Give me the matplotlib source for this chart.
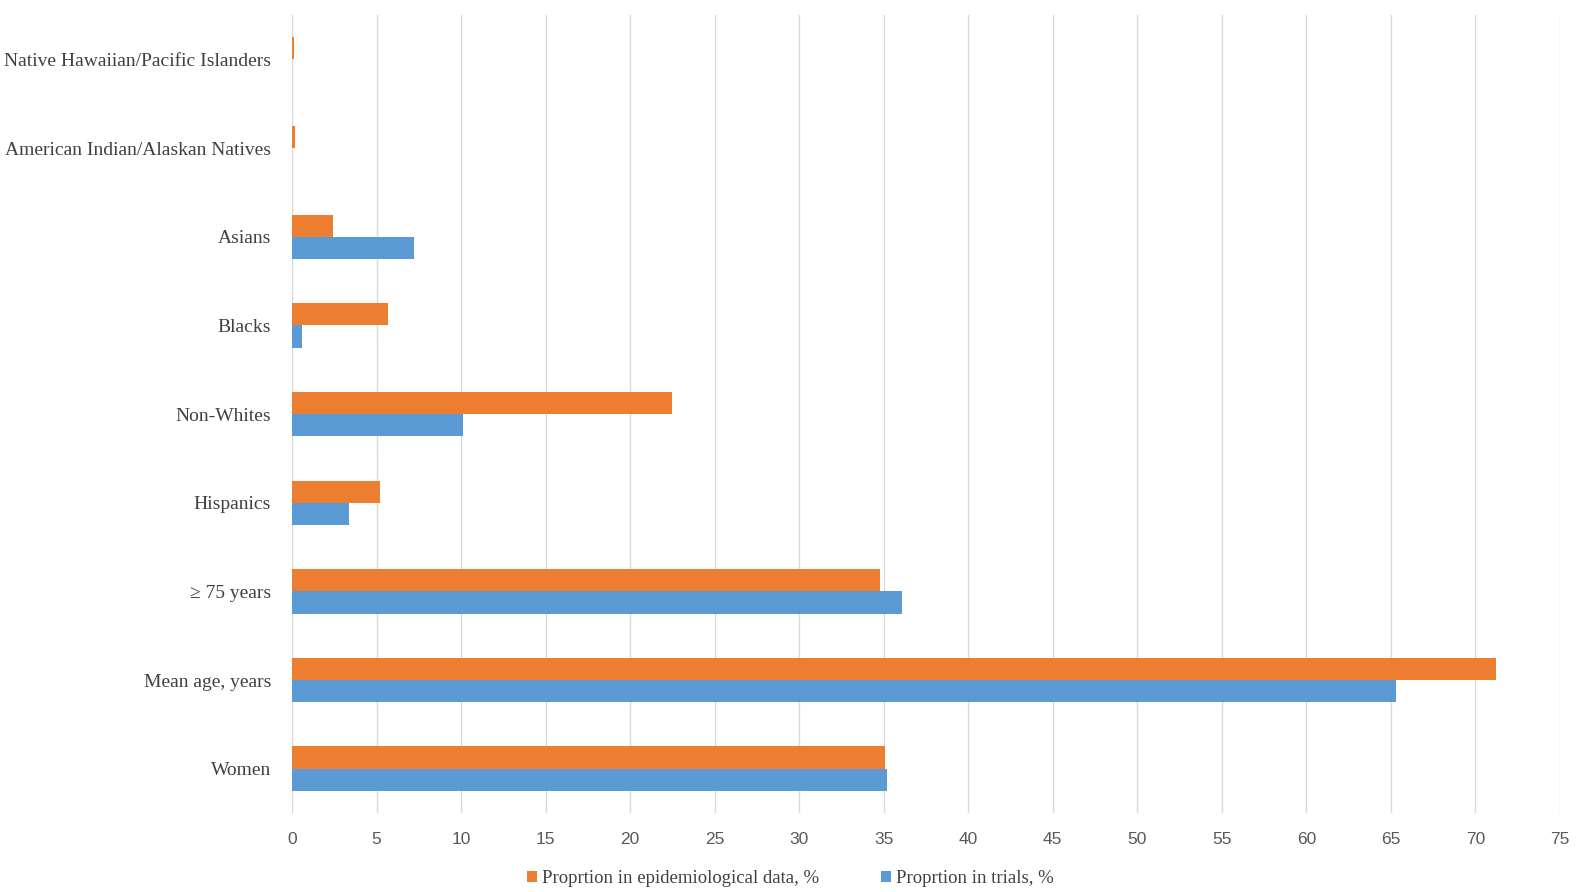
import numpy as np
import matplotlib
matplotlib.use('Agg')
import matplotlib.pyplot as plt

categories = ['Women', 'Mean age, years', '\u2265 75 years', 'Hispanics', 'Non-Whites',
              'Blacks', 'Asians', 'American Indian/Alaskan Natives',
              'Native Hawaiian/Pacific Islanders']
epi_values = [35.1, 71.2, 34.8, 5.2, 22.5, 5.7, 2.4, 0.15, 0.1]
trial_values = [35.2, 65.3, 36.1, 3.4, 10.1, 0.6, 7.2, 0.0, 0.0]
x_ticks = list(range(0, 80, 5))

orange = '#ED7D31'
blue = '#5B9BD5'

fig = plt.figure(figsize=(15.81, 8.92), dpi=100)
ax = fig.add_axes([0.1847, 0.0886, 0.802, 0.8944])

y = np.arange(len(categories))
h = 0.25
ax.barh(y + h / 2, epi_values, height=h, color=orange, zorder=3,
        label='Proprtion in epidemiological data, %')
ax.barh(y - h / 2, trial_values, height=h, color=blue, zorder=3,
        label='Proprtion in trials, %')

ax.set_xlim(0, 75)
ax.set_ylim(-0.5, len(categories) - 0.5)
ax.set_xticks(x_ticks)
ax.set_yticks(y)
ax.set_yticklabels(categories, family='Liberation Serif', fontsize=14, color='#404040')
for lbl in ax.get_xticklabels():
    lbl.set_family(['Liberation Sans Narrow', 'Liberation Sans'])
    lbl.set_fontsize(12.5)
    lbl.set_color('#595959')
ax.tick_params(axis='both', length=0)
ax.tick_params(axis='x', pad=14)
ax.tick_params(axis='y', pad=15)
ax.grid(True, axis='x', color='#D9D9D9', linewidth=1.0, zorder=0)
for s in ax.spines.values():
    s.set_visible(False)

leg = fig.legend(loc='center', bbox_to_anchor=(0.5, 0.015), ncol=2, frameon=False,
                 handlelength=0.5, handleheight=0.5, handletextpad=0.3,
                 columnspacing=3.3,
                 prop={'family': 'Liberation Serif', 'size': 13.5})
for t in leg.get_texts():
    t.set_color('#404040')

plt.savefig('out.png', dpi=100)
plt.close()
